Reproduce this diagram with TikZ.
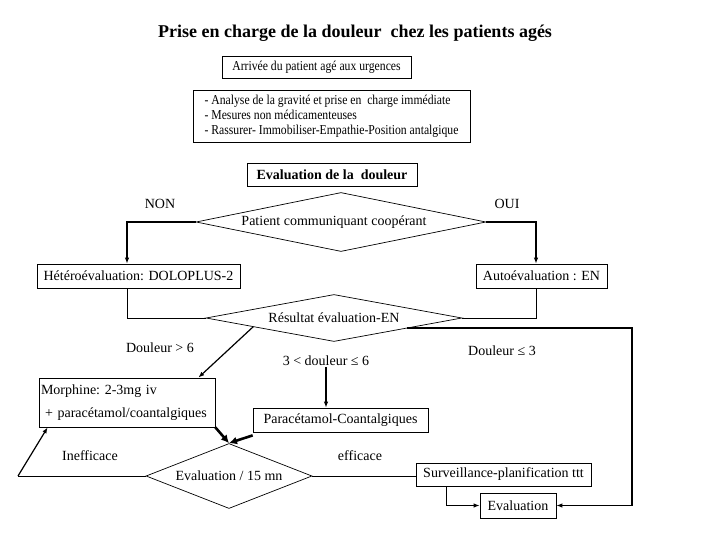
\documentclass[tikz,border=0pt]{standalone}
\usepackage{fontspec}
\setmainfont{Liberation Serif}
\newfontfamily\narrowfont[FakeStretch=0.86]{Liberation Serif}
\usetikzlibrary{arrows.meta,shapes.geometric,calc}

\begin{document}
\begin{tikzpicture}[x=1pt,y=-1pt,
 box/.style={draw,line width=0.7pt,inner sep=2pt,font=\fontsize{14}{16}\selectfont},
 narrowbox/.style={box,font=\narrowfont\fontsize{13.6}{15}\selectfont},
 decision/.style={diamond,draw,line width=0.7pt,inner sep=0pt,
   font=\fontsize{14}{16}\selectfont},
 tag/.style={font=\fontsize{14}{16}\selectfont,inner sep=1pt},
 plain/.style={line width=0.7pt},
 flow/.style={-{Latex[length=6pt,width=4.5pt]},line width=1.2pt},
 heavy/.style={-{Latex[length=8pt,width=8pt]},line width=2.6pt}
]
\useasboundingbox (0,0) rectangle (720,540);
\node[font=\bfseries\fontsize{18}{20}\selectfont] (title) at (355,33)
 {Prise en charge de la douleur\ \ chez les patients agés};
\node[narrowbox,minimum width=189,minimum height=22] (arrivee) at (316.5,67.5)
 {Arrivée du patient agé aux urgences};
\node[narrowbox,minimum width=277,minimum height=52,align=left] (analyse) at (331.5,116)
 {- Analyse de la gravité et prise en\ \ charge immédiate\\
  - Mesures non médicamenteuses\\
  - Rassurer- Immobiliser-Empathie-Position antalgique};
\node[box,font=\bfseries\fontsize{14}{16}\selectfont,minimum width=170,minimum height=23]
 (evaldouleur) at (332,174.5) {Evaluation de la\ \ douleur};
\node[decision,minimum width=290,minimum height=59] (patient) at (341,222)
 {\makebox[0pt]{\hspace*{-14pt}\raisebox{-1.5pt}{Patient communiquant coopérant}}};
\node[tag] (non) at (160,204) {NON};
\node[tag] (oui) at (507,204) {OUI};
\node[box,minimum width=203,minimum height=24] (hetero) at (138.5,276)
 {Hétéroévaluation: DOLOPLUS-2};
\node[box,minimum width=131,minimum height=24] (autoeval) at (541.5,276)
 {Autoévaluation : EN};
\node[decision,minimum width=256,minimum height=47] (resultat) at (334,318)
 {\makebox[0pt]{Résultat évaluation-EN}};
\node[tag] (fort) at (160,348) {Douleur > 6};
\node[tag] (moyen) at (326,361) {3 < douleur ≤ 6};
\node[tag] (faible) at (502,351) {Douleur ≤ 3};
\node[box,minimum height=49,text width=172,align=left] (morphine) at (127,402.5)
 {Morphine:\ 2-3mg iv\\[7pt]\hspace*{4pt}+ paracétamol/coantalgiques};
\node[box,minimum width=175,minimum height=24] (paracetamol) at (340.5,420)
 {Paracétamol-Coantalgiques};
\node[decision,minimum width=166,minimum height=65] (reeval) at (229,476)
 {\makebox[0pt]{\raisebox{-4pt}{Evaluation / 15 mn}}};
\node[tag] (inefficace) at (90,456) {Inefficace};
\node[tag] (efficace) at (360,456) {efficace};
\node[box,minimum width=175,minimum height=23] (surveillance) at (503.5,474.5)
 {Surveillance-planification ttt};
\node[box,minimum width=76,minimum height=25] (evalfin) at (518,505.5)
 {Evaluation};
% branches of the first decision
\draw[flow] (patient.west) -| ([xshift=-11.5pt]hetero.north);
\draw[flow] (patient.east) -| ([xshift=-5.5pt]autoeval.north);
\draw[plain] ([xshift=-11.5pt]hetero.south) |- (resultat.west);
\draw[plain] ([xshift=-5.5pt]autoeval.south) |- (resultat.east);
% result of the scale
\coordinate (fortout) at ($(resultat.west)!0.37!(resultat.south)$);
\coordinate (faibleout) at ($(resultat.south)!0.57!(resultat.east)$);
\draw[flow] (fortout) -- ([xshift=-17pt]morphine.north east);
\draw[flow] (moyen.south) -- (paracetamol.north -| moyen.south);
\draw[flow,line width=1.6pt] (faibleout) -| (632,0 |- evalfin.east) -- (evalfin.east);
% treatment and reassessment
\draw[heavy] (morphine.south east) -- (reeval.north);
\draw[heavy] ([yshift=-3pt]paracetamol.south west) -- (reeval.north);
\draw[plain] (reeval.west) -- (18,0 |- reeval.west) coordinate (boucle);
\draw[flow] (boucle) -- ([xshift=9pt]morphine.south west);
\draw[plain] (reeval.east) -- (surveillance.west |- reeval.east);
\draw[flow,line width=1.6pt] ([xshift=-57pt]surveillance.south) |- (evalfin.west);
\end{tikzpicture}
\end{document}
